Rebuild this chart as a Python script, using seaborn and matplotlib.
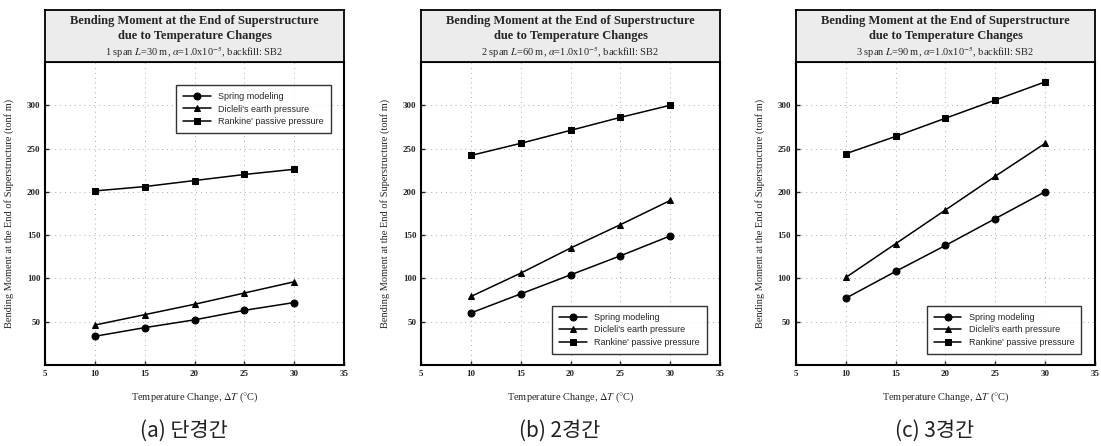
import numpy as np
import pandas as pd
import seaborn as sns
import matplotlib.pyplot as plt

# temperature change (deg C)
temp = [10, 15, 20, 25, 30]

# (a) 1 span
spring_a = [33, 43, 52, 63, 72]
dicleli_a = [46, 58, 70, 83, 96]
rankine_a = [201, 206, 213, 220, 226]

# (b) 2 span
spring_b = [60, 82, 104, 126, 149]
dicleli_b = [79, 106, 135, 162, 190]
rankine_b = [242, 256, 271, 286, 300]

# (c) 3 span
spring_c = [77, 108, 138, 169, 200]
dicleli_c = [101, 140, 179, 218, 256]
rankine_c = [244, 264, 285, 306, 327]

series_names = ['Spring modeling', "Dicleli's earth pressure", "Rankine' passive pressure"]
subtitles = [r'1 span $\mathit{L}$=30 m, $\mathit{\alpha}$=1.0x10$^{-5}$, backfill: SB2',
             r'2 span $\mathit{L}$=60 m, $\mathit{\alpha}$=1.0x10$^{-5}$, backfill: SB2',
             r'3 span $\mathit{L}$=90 m, $\mathit{\alpha}$=1.0x10$^{-5}$, backfill: SB2']
captions = ['(a) 단경간', '(b) 2경간', '(c) 3경간']
legend_locs = ['upper right', 'lower right', 'lower right']

sns.set_theme(style='ticks')
plt.rcParams['font.family'] = ['Liberation Serif', 'DejaVu Serif']
plt.rcParams['mathtext.fontset'] = 'stix'

panels = [(spring_a, dicleli_a, rankine_a),
          (spring_b, dicleli_b, rankine_b),
          (spring_c, dicleli_c, rankine_c)]

fig = plt.figure(figsize=(11.01, 4.46), dpi=100)
lefts = [0.041, 0.3825, 0.723]
width = 0.2715

for i, (sp, di, ra) in enumerate(panels):
    df = pd.DataFrame({
        'T': temp * 3,
        'M': sp + di + ra,
        'Method': [series_names[0]] * 5 + [series_names[1]] * 5 + [series_names[2]] * 5,
    })
    ax = fig.add_axes([lefts[i], 0.182, width, 0.679])
    sns.lineplot(data=df, x='T', y='M', hue='Method', style='Method',
                 palette=['black'] * 3, markers=['o', '^', 's'], dashes=False,
                 markersize=5, linewidth=1.1, markeredgecolor='black', ax=ax)
    ax.set_xlim(5, 35)
    ax.set_ylim(0, 350)
    ax.set_xticks([5, 10, 15, 20, 25, 30, 35])
    ax.set_yticks([50, 100, 150, 200, 250, 300])
    ax.tick_params(direction='in', labelsize=6.5, length=3, width=1)
    for lab in ax.get_xticklabels() + ax.get_yticklabels():
        lab.set_fontweight('bold')
    ax.grid(True, linestyle=(0, (1, 4)), color='#aaaaaa', linewidth=0.7)
    for s in ax.spines.values():
        s.set_linewidth(1.5)
        s.set_color('black')
    ax.set_xlabel(r'Temperature Change, $\mathit{\Delta T}$ ($\degree$C)', fontsize=7.5, labelpad=9)
    ax.set_ylabel('Bending Moment at the End of Superstructure (tonf m)', fontsize=7.5, labelpad=9)
    leg = ax.legend(loc=legend_locs[i],
                    prop={'family': 'Liberation Sans', 'size': 6.5},
                    frameon=True, fancybox=False, edgecolor='black',
                    handlelength=3.0, borderpad=0.8, labelspacing=0.4,
                    bbox_to_anchor=(0.97, 0.94) if i == 0 else (0.97, 0.02))
    leg.get_frame().set_linewidth(1.0)

    # title box above the axes
    tax = fig.add_axes([lefts[i], 0.861, width, 0.117])
    tax.set_facecolor('#ececec')
    tax.set_xticks([])
    tax.set_yticks([])
    for s in tax.spines.values():
        s.set_linewidth(1.3)
        s.set_color('black')
    tax.text(0.5, 0.79, 'Bending Moment at the End of Superstructure',
             ha='center', va='center', fontsize=9, fontweight='bold', transform=tax.transAxes)
    tax.text(0.5, 0.49, 'due to Temperature Changes',
             ha='center', va='center', fontsize=9, fontweight='bold', transform=tax.transAxes)
    tax.text(0.5, 0.18, subtitles[i], ha='center', va='center', fontsize=7.5,
             transform=tax.transAxes)

    fig.text(lefts[i] + width / 2 - 0.01, 0.035, captions[i], ha='center', va='center',
             fontsize=15, fontweight='light', color='#222222',
             family=['Noto Sans CJK KR', 'DejaVu Sans'])

fig.savefig('out.png', dpi=100)
